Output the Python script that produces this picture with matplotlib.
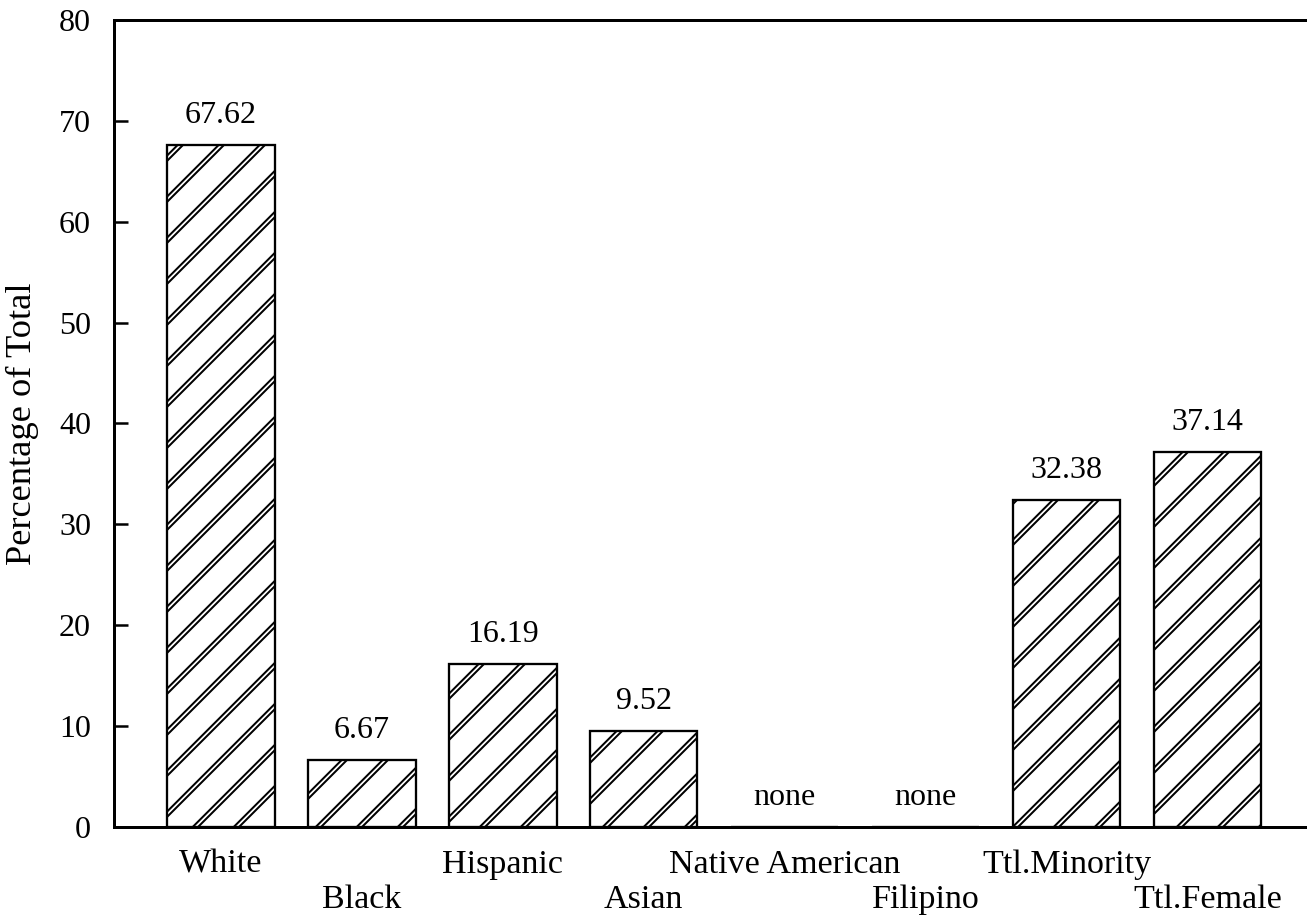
import numpy as np
import matplotlib
matplotlib.use("Agg")
import matplotlib.pyplot as plt
from matplotlib.path import Path
import matplotlib.hatch as mhatch

# ---------------- data ----------------
categories = ["White", "Black", "Hispanic", "Asian", "Native American",
              "Filipino", "Ttl.Minority", "Ttl.Female"]
values = [67.62, 6.67, 16.19, 9.52, 0.0, 0.0, 32.38, 37.14]
value_labels = ["67.62", "6.67", "16.19", "9.52", "none", "none", "32.38", "37.14"]
y_ticks = [0, 10, 20, 30, 40, 50, 60, 70, 80]
y_label = "Percentage of Total"

DPI = 205
W, H = 1307, 915


def P(px):
    """pixels -> points at the figure dpi"""
    return px * 72.0 / DPI


# ---------------- custom double-line 45-degree hatch ----------------
class DoubleDiagHatch(mhatch.HatchPatternBase):
    """Pairs of thin parallel 45-degree lines, five pairs per hatch tile."""
    def __init__(self, hatch, density):
        n = hatch.count('/')
        self.offsets = []
        if n:
            for k in range(-6, 6):
                c = k * 0.2
                self.offsets += [c, c + 0.026]
        self.num_lines = len(self.offsets)
        self.num_vertices = self.num_lines * 2

    def set_vertices_and_codes(self, vertices, codes):
        c = np.array(self.offsets)
        vertices[0::2, 0] = 0.0
        vertices[0::2, 1] = c
        vertices[1::2, 0] = 1.0
        vertices[1::2, 1] = c + 1.0
        codes[0::2] = Path.MOVETO
        codes[1::2] = Path.LINETO


try:
    mhatch._hatch_types[:] = [DoubleDiagHatch if t is mhatch.NorthEastHatch else t
                              for t in mhatch._hatch_types]
except Exception:
    pass

plt.rcParams['font.family'] = ['Liberation Serif', 'DejaVu Serif']
plt.rcParams['hatch.linewidth'] = P(2.0)
plt.rcParams['hatch.color'] = 'black'

fig = plt.figure(figsize=(W / DPI, H / DPI), dpi=DPI)
ax = fig.add_axes([114 / W, (H - 827) / H, 1 - 114 / W, (827 - 20) / H])

x = np.arange(len(categories))
ax.bar(x, values, width=0.763, facecolor='white', edgecolor='black',
       linewidth=P(2.3), hatch='/', zorder=2)

for xi, v, lab in zip(x, values, value_labels):
    ax.annotate(lab, xy=(xi, v), xytext=(0, P(22)), textcoords='offset points',
                ha='center', va='baseline', fontsize=P(32), color='black')

ax.set_xlim(-0.759, 7.707)
ax.set_ylim(0, 80)
ax.set_yticks(y_ticks)
ax.set_yticklabels([str(t) for t in y_ticks], fontsize=P(32))
ax.set_xticks(x)
ax.set_xticklabels(categories, fontsize=P(34))

ax.tick_params(axis='y', direction='in', length=P(14), width=P(2.5), pad=P(23),
               right=False)
ax.tick_params(axis='x', length=0, pad=P(22))

# stagger the category labels: every second one goes on a lower row
for i, tick in enumerate(ax.xaxis.get_major_ticks()):
    if i % 2 == 1:
        tick.set_pad(P(22 + 35))

for s in ['left', 'bottom', 'top']:
    ax.spines[s].set_linewidth(P(3))
ax.spines['right'].set_visible(False)

ax.set_ylabel(y_label, fontsize=P(36.5), va='center')
ax.yaxis.set_label_coords(-0.0771, 0.5)

fig.savefig("out.png", dpi=DPI, facecolor='white')
